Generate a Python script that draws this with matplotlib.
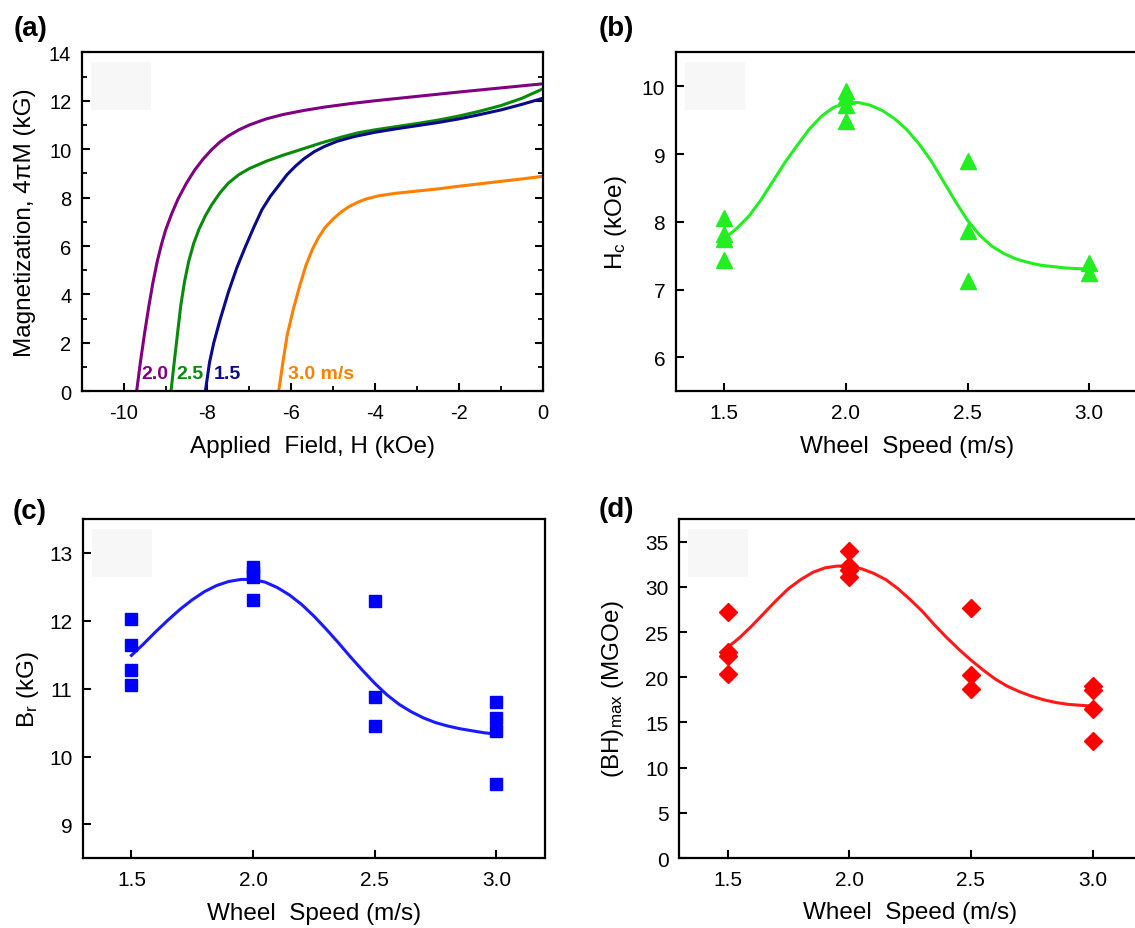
import numpy as np
import matplotlib
matplotlib.use('Agg')
import matplotlib.pyplot as plt
from matplotlib.patches import Rectangle
from matplotlib.ticker import MultipleLocator

plt.rcParams['font.family'] = ['Liberation Sans', 'DejaVu Sans']
plt.rcParams['mathtext.fontset'] = 'custom'
plt.rcParams['mathtext.rm'] = 'Liberation Sans'
plt.rcParams['mathtext.it'] = 'Liberation Sans:italic'
plt.rcParams['mathtext.bf'] = 'Liberation Sans:bold'
plt.rcParams['axes.unicode_minus'] = False

# ---------------- data ----------------
# (a) demagnetization curves: applied field H (kOe) vs 4piM (kG)
H_20 = [-9.69, -9.6, -9.5, -9.4, -9.3, -9.2, -9.1, -9.0, -8.85, -8.7, -8.5, -8.3, -8.1,
        -7.9, -7.7, -7.5, -7.25, -7.0, -6.6, -6.2, -5.7, -5.2, -4.6, -4.0, -3.0,
        -2.0, -1.0, 0.0]
M_20 = [0.0, 1.2, 2.4, 3.5, 4.5, 5.35, 6.05, 6.65, 7.35, 7.95, 8.6, 9.15, 9.6,
        9.98, 10.3, 10.55, 10.8, 11.0, 11.25, 11.43, 11.6, 11.74, 11.88, 12.0, 12.18,
        12.36, 12.53, 12.7]
H_25 = [-8.87, -8.8, -8.72, -8.64, -8.55, -8.45, -8.33, -8.2, -8.05, -7.9, -7.7, -7.5,
        -7.25, -7.0, -6.6, -6.2, -5.8, -5.3, -4.8, -4.4, -4.0, -3.5, -3.0, -2.5, -2.0,
        -1.5, -1.0, -0.5, 0.0]
M_25 = [0.0, 1.1, 2.3, 3.5, 4.5, 5.35, 6.1, 6.7, 7.25, 7.7, 8.2, 8.6,
        8.95, 9.2, 9.5, 9.75, 9.97, 10.25, 10.5, 10.68, 10.8, 10.93, 11.06, 11.2, 11.37,
        11.57, 11.8, 12.1, 12.49]
H_15 = [-8.05, -7.95, -7.85, -7.7, -7.5, -7.3, -7.1, -6.9, -6.7, -6.5, -6.3, -6.1, -5.9,
        -5.7, -5.45, -5.2, -4.9, -4.5, -4.0, -3.5, -3.0, -2.5, -2.0, -1.5, -1.0, -0.5, 0.0]
M_15 = [0.0, 1.2, 2.0, 2.95, 4.1, 5.1, 5.95, 6.75, 7.5, 8.05, 8.5, 8.95, 9.3,
        9.6, 9.9, 10.12, 10.33, 10.52, 10.7, 10.84, 10.97, 11.1, 11.25, 11.43, 11.62,
        11.85, 12.1]
H_30 = [-6.3, -6.2, -6.1, -5.95, -5.8, -5.65, -5.5, -5.35, -5.2, -5.0, -4.8, -4.6, -4.4,
        -4.2, -3.9, -3.5, -3.0, -2.5, -2.0, -1.5, -1.0, -0.5, 0.0]
M_30 = [0.0, 1.2, 2.3, 3.4, 4.35, 5.2, 5.85, 6.35, 6.75, 7.12, 7.42, 7.65, 7.82,
        7.95, 8.08, 8.18, 8.27, 8.36, 8.47, 8.57, 8.67, 8.77, 8.88]
curve_labels = ['2.0', '2.5', '1.5', '3.0 m/s']
curve_label_x = [-9.58, -8.74, -7.85, -6.07]

# (b) coercivity Hc (kOe)
speed_b = [1.5, 1.5, 1.5, 1.5, 2.0, 2.0, 2.0, 2.0, 2.5, 2.5, 2.5, 3.0, 3.0]
Hc = [8.06, 7.82, 7.74, 7.43, 9.93, 9.85, 9.73, 9.49, 8.9, 7.86, 7.12, 7.39, 7.25]
fit_x_b = [1.50, 1.55, 1.60, 1.65, 1.70, 1.75, 1.80, 1.85, 1.90, 1.95, 2.00, 2.05, 2.10,
           2.15, 2.20, 2.25, 2.30, 2.35, 2.40, 2.45, 2.50, 2.55, 2.60, 2.65, 2.70, 2.75,
           2.80, 2.85, 2.90, 2.95, 3.00]
fit_y_b = [7.75, 7.90, 8.08, 8.32, 8.60, 8.88, 9.13, 9.37, 9.56, 9.69, 9.75, 9.76, 9.72,
           9.64, 9.52, 9.36, 9.15, 8.90, 8.60, 8.30, 8.02, 7.80, 7.64, 7.53, 7.45, 7.40,
           7.36, 7.34, 7.32, 7.31, 7.30]

# (c) remanence Br (kG)
speed_c = [1.5, 1.5, 1.5, 1.5, 2.0, 2.0, 2.0, 2.0, 2.5, 2.5, 2.5, 3.0, 3.0, 3.0, 3.0]
Br = [12.02, 11.65, 11.27, 11.05, 12.79, 12.72, 12.65, 12.31, 12.29, 10.88, 10.45,
      10.80, 10.57, 10.37, 9.6]
fit_x_c = fit_x_b
fit_y_c = [11.49, 11.66, 11.84, 12.01, 12.17, 12.31, 12.43, 12.52, 12.58, 12.61, 12.61,
           12.57, 12.49, 12.38, 12.24, 12.07, 11.88, 11.68, 11.47, 11.27, 11.08, 10.91,
           10.77, 10.66, 10.57, 10.50, 10.45, 10.41, 10.38, 10.35, 10.33]

# (d) maximum energy product (BH)max (MGOe)
speed_d = [1.5, 1.5, 1.5, 1.5, 2.0, 2.0, 2.0, 2.0, 2.5, 2.5, 2.5, 3.0, 3.0, 3.0, 3.0]
BHmax = [27.2, 22.8, 22.4, 20.4, 34.0, 32.3, 31.9, 31.1, 27.7, 20.2, 18.7,
         19.0, 18.6, 16.5, 12.9]
fit_x_d = fit_x_b
fit_y_d = [23.3, 24.4, 25.7, 27.1, 28.5, 29.8, 30.8, 31.6, 32.1, 32.3, 32.3, 32.0, 31.5,
           30.8, 29.8, 28.6, 27.3, 25.8, 24.4, 23.1, 21.9, 20.8, 19.8, 19.0, 18.4, 17.9,
           17.5, 17.2, 17.0, 16.9, 16.8]

speed_ticks = [1.5, 2.0, 2.5, 3.0]
speed_ticklabels = ['1.5', '2.0', '2.5', '3.0']

# ---------------- figure ----------------
fig = plt.figure(figsize=(11.35, 9.29), dpi=100)

LABEL_FS = 17.5
SPINE_W = 1.6

def style(ax, tick_fs, minor=False, right=False):
    for s in ax.spines.values():
        s.set_linewidth(SPINE_W)
    ax.tick_params(which='major', direction='in', length=6, width=1.5,
                   labelsize=tick_fs, right=right, top=False)
    ax.tick_params(axis='x', which='major', pad=8.5)
    ax.tick_params(axis='y', which='major', pad=7.5)
    if minor:
        ax.tick_params(which='minor', direction='in', length=3.5, width=1.3,
                       right=right, top=False)
    # faint legend-box remnant
    ax.add_patch(Rectangle((0.02, 0.83), 0.13, 0.14, transform=ax.transAxes,
                           facecolor='#f7f7f7', edgecolor='none', zorder=0))

# (a)
axa = fig.add_axes([0.0720, 0.5777, 0.4062, 0.3649])
colors_a = ['#800080', '#0a8a0a', '#0a0a8a', '#ff8000']
for H, M, c in [(H_20, M_20, colors_a[0]), (H_25, M_25, colors_a[1]),
                (H_15, M_15, colors_a[2]), (H_30, M_30, colors_a[3])]:
    axa.plot(H, M, color=c, lw=2.2, solid_joinstyle='round')
axa.set_xlim(-11, 0)
axa.set_ylim(0, 14)
axa.xaxis.set_major_locator(MultipleLocator(2))
axa.xaxis.set_minor_locator(MultipleLocator(1))
axa.yaxis.set_major_locator(MultipleLocator(2))
axa.yaxis.set_minor_locator(MultipleLocator(1))
style(axa, 14.5, minor=True, right=True)
for lab, x, c in zip(curve_labels, curve_label_x, colors_a):
    axa.text(x, 0.55, lab, color=c, fontsize=14, fontweight='bold',
             ha='left', va='baseline')
axa.set_xlabel('Applied  Field, H (kOe)', fontsize=LABEL_FS, labelpad=9)
axa.set_ylabel('Magnetization, 4\u03c0M (kG)', fontsize=LABEL_FS, labelpad=9)

# (b)
axb = fig.add_axes([0.5953, 0.5777, 0.4073, 0.3649])
axb.plot(fit_x_b, fit_y_b, color='#22ee22', lw=2.2, zorder=2, solid_joinstyle='round')
axb.plot(speed_b, Hc, linestyle='none', marker='^', color='#22ee22',
         markersize=11, zorder=3)
axb.set_xlim(1.3, 3.2)
axb.set_ylim(5.5, 10.5)
axb.set_xticks(speed_ticks)
axb.set_xticklabels(speed_ticklabels)
axb.set_yticks([6, 7, 8, 9, 10])
style(axb, 15)
axb.set_xlabel('Wheel  Speed (m/s)', fontsize=LABEL_FS, labelpad=9)
axb.set_ylabel('H$_\\mathregular{c}$ (kOe)', fontsize=LABEL_FS, labelpad=9)

# (c)
axc = fig.add_axes([0.0729, 0.0750, 0.4073, 0.3652])
axc.plot(fit_x_c, fit_y_c, color='#1a1aff', lw=2.2, zorder=2, solid_joinstyle='round')
axc.plot(speed_c, Br, linestyle='none', marker='s', color='#0000ff',
         markersize=9, zorder=3)
axc.set_xlim(1.3, 3.2)
axc.set_ylim(8.5, 13.5)
axc.set_xticks(speed_ticks)
axc.set_xticklabels(speed_ticklabels)
axc.set_yticks([9, 10, 11, 12, 13])
style(axc, 15)
axc.set_xlabel('Wheel  Speed (m/s)', fontsize=LABEL_FS, labelpad=9)
axc.set_ylabel('B$_\\mathregular{r}$ (kG)', fontsize=LABEL_FS, labelpad=6)

# (d)
axd = fig.add_axes([0.5982, 0.0753, 0.4073, 0.3649])
axd.plot(fit_x_d, fit_y_d, color='#ff1a1a', lw=2.2, zorder=2, solid_joinstyle='round')
axd.plot(speed_d, BHmax, linestyle='none', marker='D', color='#ff0000',
         markersize=9, zorder=3)
axd.set_xlim(1.3, 3.2)
axd.set_ylim(0, 37.5)
axd.set_xticks(speed_ticks)
axd.set_xticklabels(speed_ticklabels)
axd.set_yticks(list(range(0, 40, 5)))
style(axd, 15)
axd.set_xlabel('Wheel  Speed (m/s)', fontsize=LABEL_FS, labelpad=9)
axd.set_ylabel('(BH)$_\\mathregular{max}$ (MGOe)', fontsize=LABEL_FS, labelpad=14)

# panel letters
for lab, x, y in [('(a)', 0.012, 0.983), ('(b)', 0.527, 0.983),
                  ('(c)', 0.011, 0.463), ('(d)', 0.527, 0.465)]:
    fig.text(x, y, lab, fontsize=20, fontweight='bold', ha='left', va='top')

fig.savefig('out.png', dpi=100)
